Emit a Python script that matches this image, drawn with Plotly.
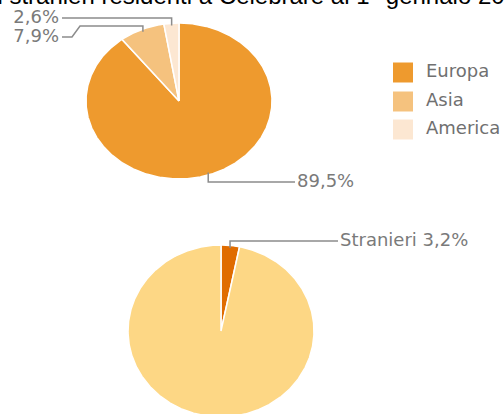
import numpy as np
import plotly.graph_objects as go

# ---- data ----
continenti = ["Europa", "Asia", "America"]
quote_continenti = [89.5, 7.9, 2.6]
colori_continenti = ["#EE9A2E", "#F5C27E", "#FCE7D2"]

categorie_pop = ["Stranieri", "Italiani"]
quote_pop = [3.2, 96.8]
colori_pop = ["#E06C00", "#FDD785"]

titolo = "Cittadini stranieri residenti a Celebrare al 1° gennaio 2019"

# ---- layout constants (pixel space) ----
W, H = 504, 414
PIE1 = dict(cx=179, cy=101, rx=93, ry=78)
PIE2 = dict(cx=221, cy=331, rx=93, ry=86)
LINE_COL = "#8C8C8C"
LABEL_COL = "#7A7A7A"
FONT = "DejaVu Sans"

def fmt(v):
    return f"{v:.1f}%".replace(".", ",")

def ell(p, theta_deg, k=1.0):
    t = np.radians(theta_deg)
    return p["cx"] + k * p["rx"] * np.sin(t), p["cy"] - k * p["ry"] * np.cos(t)

def slices(p, values, colors, names):
    traces = []
    tot = sum(values)
    start = 0.0
    mids = []
    for v, c, n in zip(values, colors, names):
        a0 = 360 * start / tot
        a1 = 360 * (start + v) / tot
        th = np.linspace(a0, a1, max(3, int((a1 - a0) * 2)))
        xs, ys = ell(p, th)
        x = np.concatenate([[p["cx"]], xs, [p["cx"]]])
        y = np.concatenate([[p["cy"]], ys, [p["cy"]]])
        traces.append(go.Scatter(x=x, y=y, fill="toself", fillcolor=c, mode="lines",
                                 line=dict(color="white", width=1.5), name=n,
                                 hoverinfo="skip", showlegend=False))
        mids.append((a0 + a1) / 2)
        start += v
    return traces, mids

fig = go.Figure()

t1, mids1 = slices(PIE1, quote_continenti, colori_continenti, continenti)
t2, mids2 = slices(PIE2, quote_pop, colori_pop, categorie_pop)
for t in t1 + t2:
    fig.add_trace(t)

# leader lines (anchor from slice mid-angle, routing to label positions)
def leader(p, mid, pts, k=0.97):
    ax, ay = ell(p, mid, k)
    xs = [ax] + [q[0] for q in pts]
    ys = [ay] + [q[1] for q in pts]
    fig.add_trace(go.Scatter(x=xs, y=ys, mode="lines", line=dict(color=LINE_COL, width=1.5),
                             hoverinfo="skip", showlegend=False))

# Europa
leader(PIE1, mids1[0], [(ell(PIE1, mids1[0], 0.97)[0], 182), (295, 182)])
# Asia
leader(PIE1, mids1[1], [(ell(PIE1, mids1[1], 0.97)[0], 26), (80, 26), (72, 37), (62, 37)])
# America
leader(PIE1, mids1[2], [(ell(PIE1, mids1[2], 0.97)[0], 18), (62, 18)])
# Stranieri
leader(PIE2, mids2[0], [(ell(PIE2, mids2[0], 0.97)[0], 241), (338, 241)])

# labels
fig.add_trace(go.Scatter(
    x=[297, 59, 59, 340],
    y=[182, 37, 18, 241],
    mode="text",
    text=[fmt(quote_continenti[0]), fmt(quote_continenti[1]), fmt(quote_continenti[2]),
          f"{categorie_pop[0]} {fmt(quote_pop[0])}"],
    textposition=["middle right", "middle left", "middle left", "middle right"],
    textfont=dict(family=FONT, size=18, color=LABEL_COL),
    hoverinfo="skip", showlegend=False, cliponaxis=False))

# legend
leg_y = [72.5, 101.5, 129.5]
fig.add_trace(go.Scatter(
    x=[403] * len(continenti), y=leg_y, mode="markers",
    marker=dict(symbol="square", size=20, color=colori_continenti, line=dict(width=0)),
    hoverinfo="skip", showlegend=False))
fig.add_trace(go.Scatter(
    x=[426] * len(continenti), y=leg_y, mode="text", text=continenti,
    textposition="middle right",
    textfont=dict(family=FONT, size=18, color="#707070"),
    hoverinfo="skip", showlegend=False, cliponaxis=False))

fig.update_layout(
    width=W, height=H,
    margin=dict(l=0, r=0, t=0, b=0),
    paper_bgcolor="white", plot_bgcolor="white",
    xaxis=dict(range=[0, W], visible=False, fixedrange=True),
    yaxis=dict(range=[H, 0], visible=False, fixedrange=True),
    annotations=[dict(text=titolo, xref="paper", yref="paper", x=0, y=1,
                      xanchor="left", yanchor="middle", xshift=-86, yshift=5,
                      showarrow=False,
                      font=dict(family="Liberation Sans", size=24, color="black"))],
)

fig.write_html("out.html", config={"displayModeBar": False})
